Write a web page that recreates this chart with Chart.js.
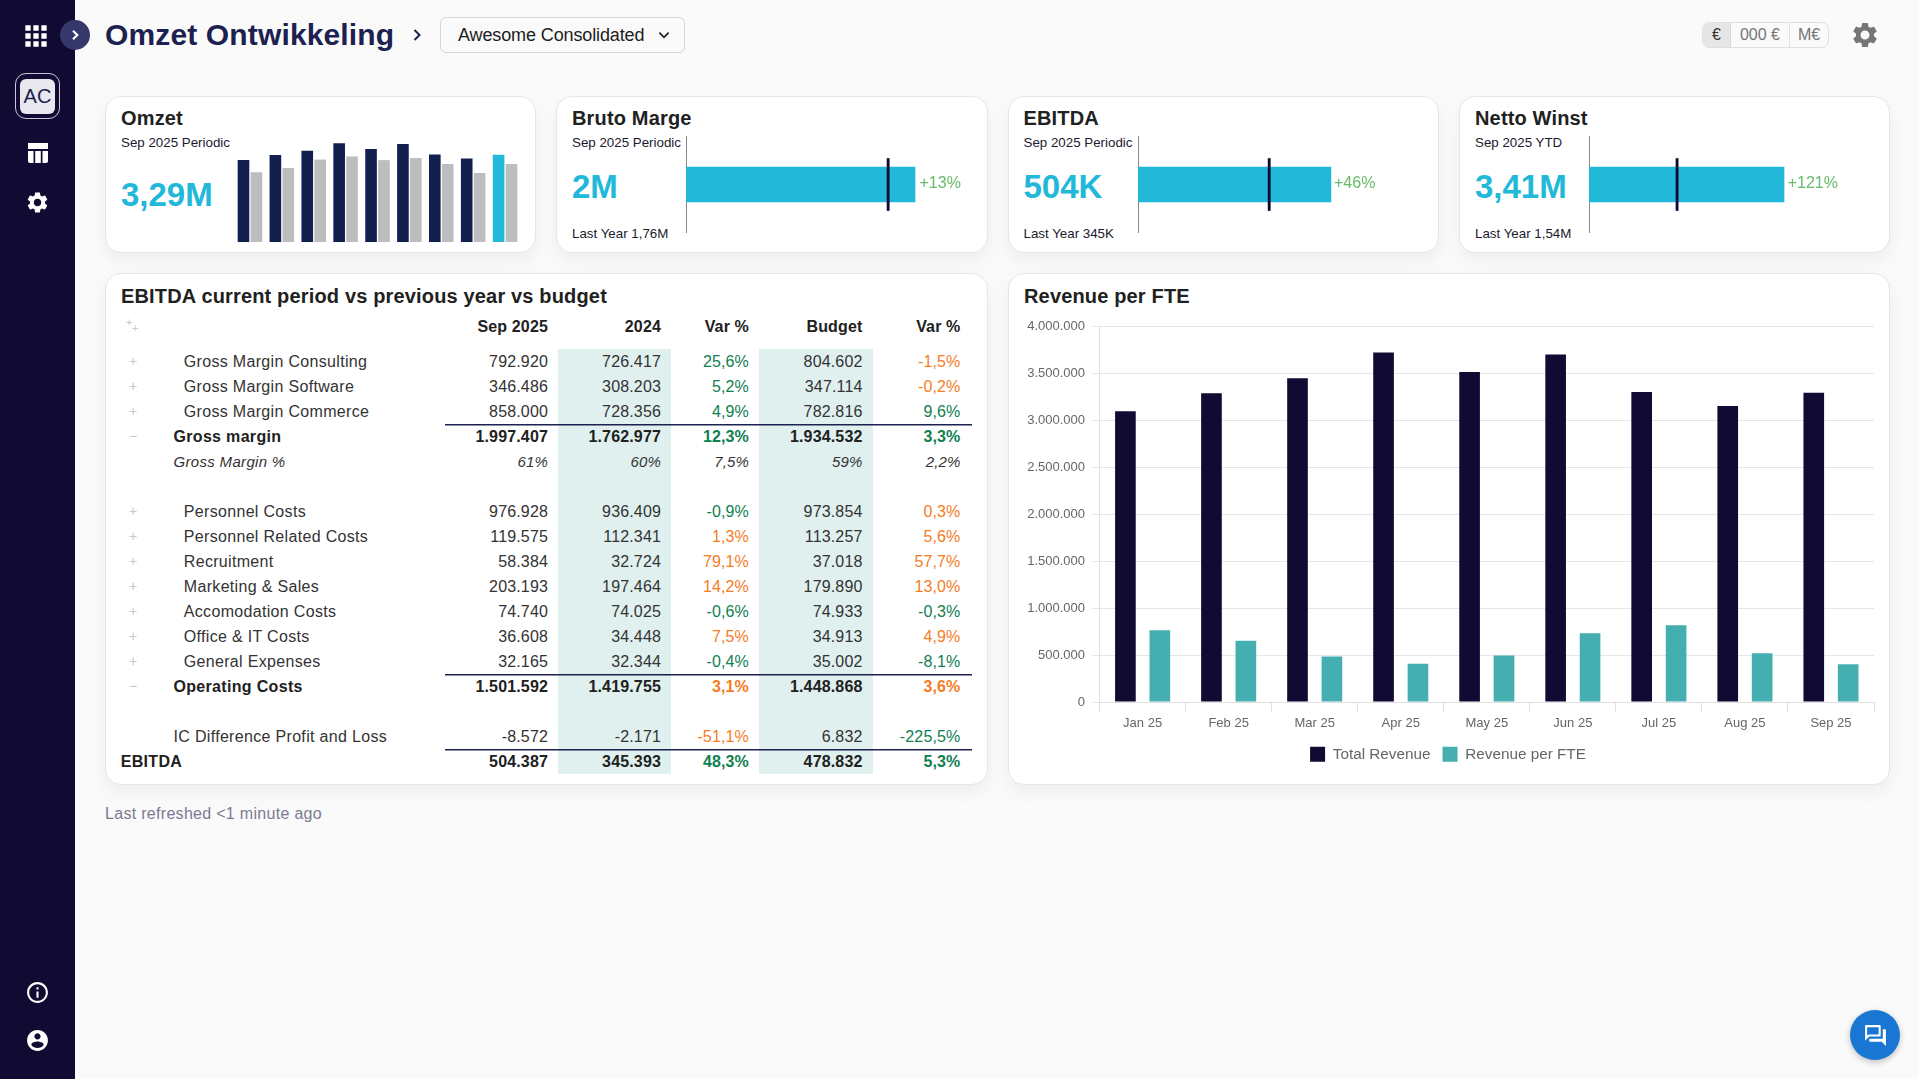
<!DOCTYPE html>
<html>
<head>
<meta charset="utf-8">
<title>Omzet Ontwikkeling</title>
<script src="https://cdn.jsdelivr.net/npm/chart.js@4/dist/chart.umd.min.js"></script>
<style>
  html, body { margin: 0; padding: 0; background: #fafafa; }
  body { width: 1919px; height: 1079px; position: relative; overflow: hidden; font-family: "Liberation Sans", Arial, sans-serif; color: #212121; }
  .abs { position: absolute; white-space: nowrap; }
  .side { position: absolute; left: 0; top: 0; width: 75px; height: 1079px; background: #110a33; }
  .card { position: absolute; background: #fff; border: 1px solid #e6e6e6; border-radius: 16px; box-sizing: border-box; box-shadow: 0 8px 18px rgba(0,0,0,.05); }
  .title { font-size: 20px; font-weight: bold; line-height: 24px; color: #212121; letter-spacing: .16px; }
  .sub { font-size: 13.33px; line-height: 18px; color: #1a1a2e; }
  .big { font-size: 33px; font-weight: bold; line-height: 40px; color: #22b8d9; }
  .pct { font-size: 16px; line-height: 20px; color: #66bb6a; }
  canvas { position: absolute; display: block; }
  svg.icon { position: absolute; }
  table { position: absolute; left: 118px; top: 314px; border-collapse: separate; border-spacing: 0; table-layout: fixed; width: 854px; font-size: 16px; color: #333; letter-spacing: .15px; }
  td { height: 25px; padding: 0; text-align: right; white-space: nowrap; box-sizing: border-box; position: relative; }
  td.lbl { text-align: left; letter-spacing: .32px; }
  tr.head td { font-weight: bold; color: #212121; }
  tr.gap td { height: 10px; }
  tr.bold td { font-weight: bold; color: #212121; }
  tr.ital td { font-style: italic; font-size: 15px; }
  td.shade { background: #dff0ef; }
  tr.line td:not(.lbl) { box-shadow: inset 0 1.4px 0 #1d2150; }
  .plus { position: absolute; left: 11px; top: 2px; color: #c8c8c8; font-size: 14px; line-height: 20px; font-style: normal; font-weight: normal; }
  .good { color: #0f8050 !important; }
  .bad { color: #f57c1f !important; }
</style>
</head>
<body>
<div class="side"></div>
<svg class="icon" style="left:20px;top:20px" width="32" height="32" viewBox="0 0 24 24" fill="#fff"><path d="M4 8h4V4H4v4zm6 12h4v-4h-4v4zm-6 0h4v-4H4v4zm0-6h4v-4H4v4zm6 0h4v-4h-4v4zm6-10v4h4V4h-4zm-6 4h4V4h-4v4zm6 6h4v-4h-4v4zm0 6h4v-4h-4v4z"/></svg>
<div class="abs" style="left:60px;top:20px;width:30px;height:30px;border-radius:50%;background:#35386a"></div>
<svg class="icon" style="left:67px;top:27px" width="16" height="16" viewBox="0 0 24 24" fill="none" stroke="#fff" stroke-width="3.200"><path d="M9 5.500l6.500 6.500-6.500 6.500"/></svg>
<div class="abs" style="left:15px;top:73px;width:45px;height:46px;border:1.5px solid #c9c6d8;border-radius:11px;box-sizing:border-box"></div>
<div class="abs" style="left:20px;top:79px;width:35px;height:35px;background:#e8e8ee;border-radius:6px;text-align:center;line-height:35px;font-size:20px;color:#1d2150">AC</div>
<svg class="icon" style="left:26px;top:141px" width="24" height="24" viewBox="0 0 24 24" fill="#fff"><path d="M2 2h20v6H2zM2 10h5.500v12H4a2 2 0 0 1-2-2zM9.200 10h5.600v12H9.200zM16.500 10H22v10a2 2 0 0 1-2 2h-3.500z"/></svg>
<svg class="icon" style="left:25px;top:189.500px" width="25" height="25" viewBox="0 0 24 24" fill="#fff"><path d="M19.140 12.940c.040-.300.060-.610.060-.940 0-.320-.020-.640-.070-.940l2.030-1.580c.180-.140.230-.410.120-.610l-1.920-3.320c-.120-.220-.370-.290-.590-.220l-2.390.960c-.500-.380-1.030-.700-1.620-.940l-.360-2.540c-.040-.240-.240-.410-.480-.410h-3.840c-.240 0-.430.170-.470.410l-.360 2.540c-.590.240-1.130.570-1.620.940l-2.390-.960c-.220-.080-.470 0-.590.220L2.740 8.870c-.120.210-.080.470.120.610l2.030 1.580c-.050.300-.090.630-.090.940s.020.640.070.940l-2.030 1.580c-.180.140-.230.410-.120.610l1.920 3.320c.120.220.370.290.590.220l2.390-.960c.500.380 1.030.700 1.620.940l.360 2.540c.050.240.240.410.480.410h3.840c.240 0 .440-.170.470-.410l.360-2.540c.590-.240 1.130-.560 1.620-.940l2.390.960c.220.080.470 0 .590-.220l1.920-3.320c.120-.220.070-.470-.120-.610l-2.010-1.580zM12 15.600c-1.980 0-3.600-1.620-3.600-3.600s1.620-3.600 3.600-3.600 3.600 1.620 3.600 3.600-1.620 3.600-3.600 3.600z"/></svg>
<svg class="icon" style="left:25px;top:979.500px" width="25" height="25" viewBox="0 0 24 24" fill="#fff"><path d="M11 7h2v2h-2zm0 4h2v6h-2zm1-9C6.480 2 2 6.480 2 12s4.480 10 10 10 10-4.480 10-10S17.520 2 12 2zm0 18c-4.410 0-8-3.590-8-8s3.590-8 8-8 8 3.590 8 8-3.590 8-8 8z"/></svg>
<svg class="icon" style="left:25px;top:1027.500px" width="25" height="25" viewBox="0 0 24 24" fill="#fff"><path d="M12 2C6.480 2 2 6.480 2 12s4.480 10 10 10 10-4.480 10-10S17.520 2 12 2zm0 3c1.660 0 3 1.340 3 3s-1.340 3-3 3-3-1.340-3-3 1.340-3 3-3zm0 14.200c-2.500 0-4.710-1.280-6-3.220.030-1.990 4-3.080 6-3.080 1.990 0 5.970 1.090 6 3.080-1.290 1.940-3.500 3.220-6 3.220z"/></svg>

<div class="abs" style="left:105px;top:15px;font-size:30px;font-weight:bold;line-height:40px;color:#1d2150;letter-spacing:.14px">Omzet Ontwikkeling</div>
<svg class="icon" style="left:405px;top:23px" width="24" height="24" viewBox="0 0 24 24" fill="none" stroke="#1d2150" stroke-width="2"><path d="M9.500 7l5 5-5 5"/></svg>
<div class="abs" style="left:440px;top:17px;width:245px;height:36px;border:1px solid #d3d3e2;border-radius:6px;box-sizing:border-box;font-size:18px;line-height:34px;padding-left:17px;color:#212121;letter-spacing:-.12px">Awesome Consolidated</div>
<svg class="icon" style="left:653px;top:24px" width="22" height="22" viewBox="0 0 24 24" fill="none" stroke="#212121" stroke-width="2"><path d="M7 9.500l5 5 5-5"/></svg>

<div class="abs" style="left:1702px;top:22px;width:127px;height:26px;border:1px solid #e0e0e0;border-radius:7px;box-sizing:border-box;overflow:hidden;font-size:16px;line-height:24px;color:#757575;text-align:center">
  <div class="abs" style="left:0;top:0;width:27px;height:24px;background:#e6e6e6;border-right:1px solid #d8d8d8;color:#333">€</div>
  <div class="abs" style="left:28px;top:0;width:58px;height:24px;border-right:1px solid #e0e0e0">000 €</div>
  <div class="abs" style="left:87px;top:0;width:38px;height:24px">M€</div>
</div>
<svg class="icon" style="left:1850px;top:20px" width="30" height="30" viewBox="0 0 24 24" fill="#757575"><path d="M19.140 12.940c.040-.300.060-.610.060-.940 0-.320-.020-.640-.070-.940l2.030-1.580c.180-.140.230-.410.120-.610l-1.920-3.320c-.120-.220-.370-.290-.590-.220l-2.390.960c-.500-.380-1.030-.700-1.620-.940l-.360-2.540c-.040-.240-.240-.410-.480-.410h-3.840c-.240 0-.430.170-.470.410l-.360 2.540c-.590.240-1.130.570-1.620.940l-2.390-.960c-.220-.080-.470 0-.590.220L2.740 8.870c-.120.210-.080.470.120.610l2.030 1.580c-.050.300-.090.630-.090.940s.020.640.070.940l-2.030 1.580c-.180.140-.230.410-.120.610l1.920 3.320c.120.220.370.290.590.220l2.390-.960c.500.380 1.030.700 1.620.940l.360 2.540c.050.240.240.410.480.410h3.840c.240 0 .440-.170.470-.410l.360-2.540c.590-.240 1.130-.560 1.620-.940l2.390.960c.220.080.470 0 .590-.220l1.920-3.320c.120-.220.070-.470-.120-.610l-2.010-1.580zM12 15.600c-1.980 0-3.600-1.620-3.600-3.600s1.620-3.600 3.600-3.600 3.600 1.620 3.600 3.600-1.620 3.600-3.600 3.600z"/></svg>

<!-- KPI cards -->
<div class="card" style="left:105px;top:95.500px;width:431px;height:157.500px"></div>
<div class="card" style="left:556px;top:95.500px;width:432px;height:157.500px"></div>
<div class="card" style="left:1008px;top:95.500px;width:431px;height:157.500px"></div>
<div class="card" style="left:1459px;top:95.500px;width:431px;height:157.500px"></div>

<div class="abs title" style="left:121px;top:106px">Omzet</div>
<div class="abs sub" style="left:121px;top:134px">Sep 2025 Periodic</div>
<div class="abs big" style="left:121px;top:175px">3,29M</div>
<canvas id="omzetChart" width="287" height="106" style="left:233.500px;top:136px"></canvas>

<div class="abs title" style="left:572px;top:106px">Bruto Marge</div>
<div class="abs sub" style="left:572px;top:134px">Sep 2025 Periodic</div>
<div class="abs big" style="left:572px;top:167px">2M</div>
<div class="abs sub" style="left:572px;top:225px">Last Year 1,76M</div>
<canvas id="bullet0" width="288" height="97" style="left:682.400px;top:136px"></canvas>
<div class="abs pct" style="left:919.500px;top:173px">+13%</div>

<div class="abs title" style="left:1023.500px;top:106px">EBITDA</div>
<div class="abs sub" style="left:1023.500px;top:134px">Sep 2025 Periodic</div>
<div class="abs big" style="left:1023.500px;top:167px">504K</div>
<div class="abs sub" style="left:1023.500px;top:225px">Last Year 345K</div>
<canvas id="bullet1" width="288" height="97" style="left:1133.600px;top:136px"></canvas>
<div class="abs pct" style="left:1334px;top:173px">+46%</div>

<div class="abs title" style="left:1475px;top:106px">Netto Winst</div>
<div class="abs sub" style="left:1475px;top:134px">Sep 2025 YTD</div>
<div class="abs big" style="left:1475px;top:167px">3,41M</div>
<div class="abs sub" style="left:1475px;top:225px">Last Year 1,54M</div>
<canvas id="bullet2" width="288" height="97" style="left:1585.300px;top:136px"></canvas>
<div class="abs pct" style="left:1787.700px;top:173px">+121%</div>

<!-- table card -->
<div class="card" style="left:105px;top:273px;width:883px;height:512px"></div>
<div class="abs title" style="left:121px;top:284px">EBITDA current period vs previous year vs budget</div>
<table id="pnl">
  <colgroup><col style="width:327px"><col style="width:113px"><col style="width:113px"><col style="width:88px"><col style="width:114px"><col style="width:99px"></colgroup>
  <tbody id="pnlBody"></tbody>
</table>
<div class="abs" style="left:105px;top:804px;font-size:16px;line-height:20px;color:#7a7a92;letter-spacing:.3px">Last refreshed &lt;1 minute ago</div>

<!-- revenue card -->
<div class="card" style="left:1008px;top:273px;width:882px;height:512px"></div>
<div class="abs title" style="left:1024px;top:284px">Revenue per FTE</div>
<canvas id="revenueChart" width="860" height="470" style="left:1022px;top:312px"></canvas>

<div class="abs" style="left:1850px;top:1010px;width:50px;height:50px;border-radius:50%;background:#1976d2;box-shadow:0 2px 6px rgba(0,0,0,.25)"></div>
<svg class="icon" style="left:1863px;top:1023px" width="25" height="25" viewBox="0 0 24 24" fill="#fff"><path d="M15 4v7H5.170L4 12.170V4h11m1-2H3c-.550 0-1 .450-1 1v14l4-4h10c.550 0 1-.450 1-1V3c0-.550-.450-1-1-1zm5 4h-2v9H6v2c0 .550.450 1 1 1h11l4 4V7c0-.550-.450-1-1-1z"/></svg>

<script>
const months = ['Jan 25', 'Feb 25', 'Mar 25', 'Apr 25', 'May 25', 'Jun 25', 'Jul 25', 'Aug 25', 'Sep 25'];
const totalRevenue = [3096000, 3287000, 3447000, 3723000, 3514000, 3702000, 3301000, 3152000, 3294000];
const revenuePerFte = [766000, 652000, 486000, 408000, 496000, 734000, 819000, 521000, 404000];
const revenueTicks = [0, 500000, 1000000, 1500000, 2000000, 2500000, 3000000, 3500000, 4000000];
const revenueLastYear = [2630000, 2790000, 3110000, 3230000, 3090000, 3170000, 2940000, 2600000, 2940000];

// bullet cards: Bruto Marge, EBITDA, Netto Winst
const bulletActual = [1997407, 504387, 3410000];
const bulletLastYear = [1762977, 343000, 1540000];
const bulletAxisMax = [2442000, 732000, 4896000];

const rowLabels = ['Gross Margin Consulting', 'Gross Margin Software', 'Gross Margin Commerce', 'Gross margin', 'Gross Margin %', '',
  'Personnel Costs', 'Personnel Related Costs', 'Recruitment', 'Marketing & Sales', 'Accomodation Costs', 'Office & IT Costs', 'General Expenses', 'Operating Costs', '',
  'IC Difference Profit and Loss', 'EBITDA'];
const rowKinds = ['sub', 'sub', 'sub', 'total', 'ital', 'blank', 'sub', 'sub', 'sub', 'sub', 'sub', 'sub', 'sub', 'total', 'blank', 'plain', 'grand'];
const colSep2025 = ['792.920', '346.486', '858.000', '1.997.407', '61%', '', '976.928', '119.575', '58.384', '203.193', '74.740', '36.608', '32.165', '1.501.592', '', '-8.572', '504.387'];
const col2024 = ['726.417', '308.203', '728.356', '1.762.977', '60%', '', '936.409', '112.341', '32.724', '197.464', '74.025', '34.448', '32.344', '1.419.755', '', '-2.171', '345.393'];
const colVarYear = ['25,6%', '5,2%', '4,9%', '12,3%', '7,5%', '', '-0,9%', '1,3%', '79,1%', '14,2%', '-0,6%', '7,5%', '-0,4%', '3,1%', '', '-51,1%', '48,3%'];
const colBudget = ['804.602', '347.114', '782.816', '1.934.532', '59%', '', '973.854', '113.257', '37.018', '179.890', '74.933', '34.913', '35.002', '1.448.868', '', '6.832', '478.832'];
const colVarBudget = ['-1,5%', '-0,2%', '9,6%', '3,3%', '2,2%', '', '0,3%', '5,6%', '57,7%', '13,0%', '-0,3%', '4,9%', '-8,1%', '3,6%', '', '-225,5%', '5,3%'];
const varYearTone = ['good', 'good', 'good', 'good', '', '', 'good', 'bad', 'bad', 'bad', 'good', 'bad', 'good', 'bad', '', 'bad', 'good'];
const varBudgetTone = ['bad', 'bad', 'good', 'good', '', '', 'bad', 'bad', 'bad', 'bad', 'good', 'bad', 'good', 'bad', '', 'good', 'good'];

const INK = '#110a33';
const TEAL = '#45aeb1';
const CYAN = '#22b8d9';
const dotted = v => String(v).replace(/\B(?=(\d{3})+(?!\d))/g, '.');

function buildTable() {
  const body = document.getElementById('pnlBody');
  let html = '<tr class="head"><td class="lbl"><span class="plus" style="left:8px;top:-2px;font-size:11px">+</span><span class="plus" style="left:14px;top:4px;font-size:11px">+</span></td>' +
    '<td style="padding-right:10px">Sep 2025</td><td style="padding-right:10px">2024</td><td style="padding-right:10px">Var %</td><td style="padding-right:10.500px">Budget</td><td style="padding-right:11.500px">Var %</td></tr>' +
    '<tr class="gap"><td colspan="6"></td></tr>';
  rowLabels.forEach((label, i) => {
    const kind = rowKinds[i];
    const cls = [];
    if (kind === 'total' || kind === 'grand') cls.push('bold', 'line');
    if (kind === 'ital') cls.push('ital');
    const indent = kind === 'sub' ? 65.8 : kind === 'grand' ? 2.7 : 55.5;
    const mark = kind === 'sub' ? '+' : kind === 'total' ? '−' : '';
    html += `<tr class="${cls.join(' ')}">` +
      `<td class="lbl" style="padding-left:${indent}px">${mark ? `<span class="plus">${mark}</span>` : ''}${label.replace('&', '&amp;')}</td>` +
      `<td style="padding-right:10px">${colSep2025[i]}</td>` +
      `<td class="shade" style="padding-right:10px">${col2024[i]}</td>` +
      `<td class="${varYearTone[i]}" style="padding-right:10px">${colVarYear[i]}</td>` +
      `<td class="shade" style="padding-right:10.500px">${colBudget[i]}</td>` +
      `<td class="${varBudgetTone[i]}" style="padding-right:11.500px">${colVarBudget[i]}</td></tr>`;
  });
  body.innerHTML = html;
}

function drawOmzet() {
  new Chart(document.getElementById('omzetChart'), {
    type: 'bar',
    data: {
      labels: months,
      datasets: [
        { data: totalRevenue, backgroundColor: months.map((m, i) => i === months.length - 1 ? CYAN : '#12204f') },
        { data: revenueLastYear, backgroundColor: '#bdbdbd' },
      ],
    },
    options: {
      responsive: false,
      animation: false,
      categoryPercentage: 0.81,
      barPercentage: 0.9,
      plugins: { legend: { display: false }, tooltip: { enabled: false } },
      scales: { x: { display: false }, y: { display: false, min: 0, max: 4000000 } },
    },
  });
}

function drawBullet(idx) {
  const axisMax = bulletAxisMax[idx];
  const halfMark = axisMax / 280 * 1.1;
  new Chart(document.getElementById('bullet' + idx), {
    type: 'bar',
    data: {
      labels: [''],
      datasets: [
        { data: [[bulletLastYear[idx] - halfMark, bulletLastYear[idx] + halfMark]], backgroundColor: INK, barThickness: 52, order: 0 },
        { data: [bulletActual[idx]], backgroundColor: CYAN, barThickness: 35, order: 1 },
      ],
    },
    options: {
      indexAxis: 'y',
      responsive: false,
      animation: false,
      layout: { padding: { left: 4, right: 4 } },
      datasets: { bar: { grouped: false } },
      plugins: { legend: { display: false }, tooltip: { enabled: false } },
      scales: {
        x: { display: false, min: 0, max: axisMax },
        y: {
          afterFit: scale => { scale.width = 0; },
          grid: { display: false },
          ticks: { display: false },
          border: { color: '#888', width: 1 },
        },
      },
    },
  });
}

function drawRevenue() {
  new Chart(document.getElementById('revenueChart'), {
    type: 'bar',
    data: {
      labels: months,
      datasets: [
        { label: 'Total Revenue', data: totalRevenue, backgroundColor: INK },
        { label: 'Revenue per FTE', data: revenuePerFte, backgroundColor: TEAL },
      ],
    },
    options: {
      responsive: false,
      animation: false,
      categoryPercentage: 0.8,
      barPercentage: 0.6,
      layout: { padding: { top: 10.200, right: 8, left: 0, bottom: 10 } },
      plugins: {
        tooltip: { enabled: false },
        legend: {
          position: 'bottom',
          labels: { boxWidth: 15, boxHeight: 15, padding: 12, color: '#666', font: { family: 'Liberation Sans', size: 15.300 } },
        },
      },
      scales: {
        x: {
          grid: { drawOnChartArea: false, tickLength: 10, color: '#e0e0e0' },
          border: { color: '#e0e0e0' },
          ticks: { color: '#666', padding: 3.500, font: { family: 'Liberation Sans', size: 13 } },
        },
        y: {
          min: 0,
          max: 4000000,
          afterBuildTicks: scale => { scale.ticks = revenueTicks.map(value => ({ value })); },
          afterFit: scale => { scale.width = 77.600; },
          grid: { color: '#e6e6e6', tickLength: 8 },
          border: { color: '#e0e0e0' },
          ticks: { color: '#666', padding: 6.600, font: { family: 'Liberation Sans', size: 13 }, callback: v => dotted(v) },
        },
      },
    },
  });
}

buildTable();
drawOmzet();
bulletActual.forEach((v, i) => drawBullet(i));
drawRevenue();
</script>
</body>
</html>
